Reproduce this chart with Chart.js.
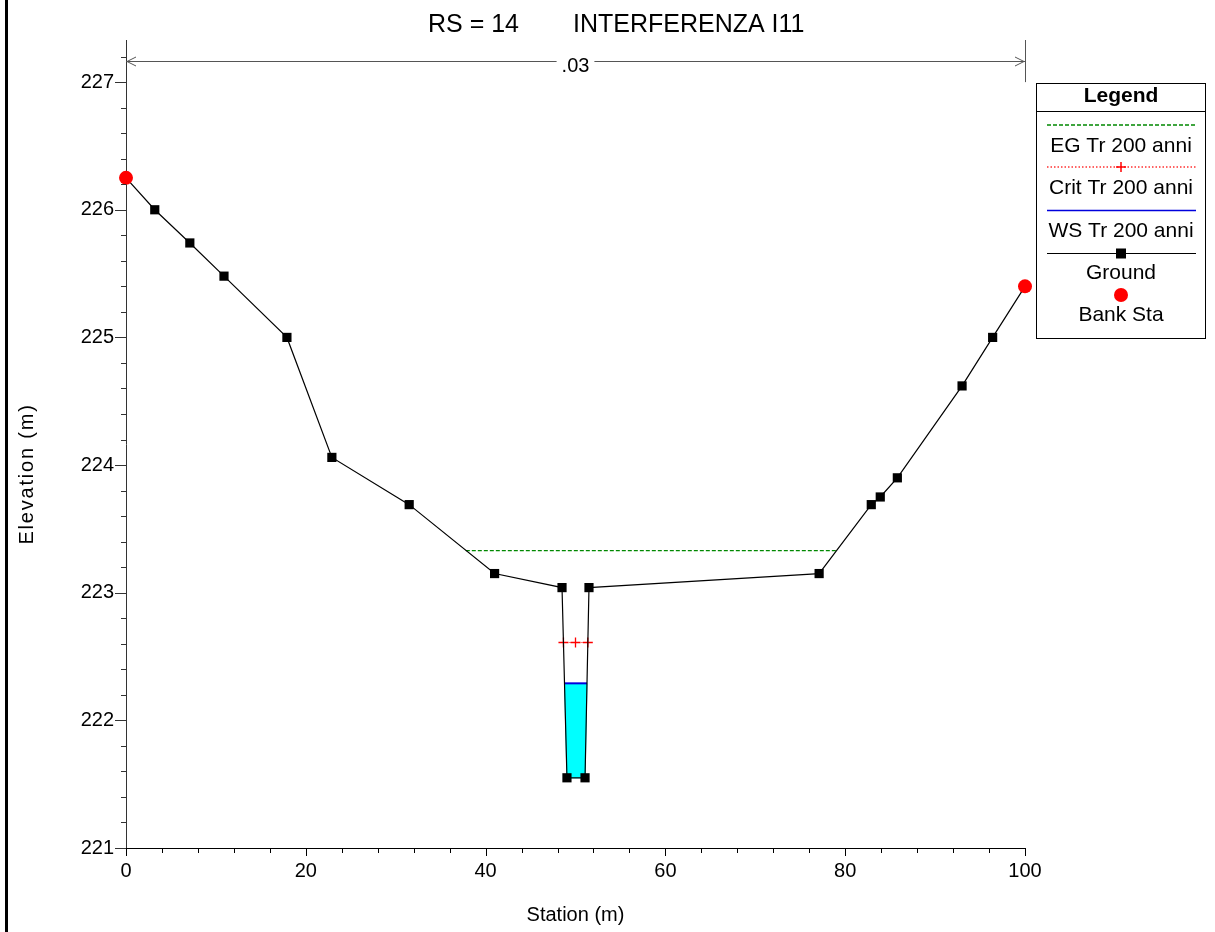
<!DOCTYPE html>
<html>
<head>
<meta charset="utf-8">
<script src="https://cdn.jsdelivr.net/npm/chart.js@4.4.0/dist/chart.umd.min.js"></script>
<style>
  html, body { margin: 0; padding: 0; background: #fff; }
  #chart { display: block; }
</style>
</head>
<body>
<canvas id="chart" width="1215" height="932"></canvas>
<script>
// cross section RS 14
const groundSta = [0, 3.2, 7.1, 10.9, 17.9, 22.9, 31.5, 41.0, 48.5, 49.05, 51.06, 51.5, 77.1, 82.9, 83.9, 85.8, 93.0, 96.4, 100];
const groundElev = [226.25, 226.0, 225.74, 225.48, 225.0, 224.06, 223.69, 223.15, 223.04, 221.55, 221.55, 223.04, 223.15, 223.69, 223.75, 223.90, 224.62, 225.0, 225.40];
const bankSta = [0, 100];
const bankElev = [226.25, 225.40];
const wsSta = [48.78, 51.28];
const wsElev = 222.29;
const critSta = [48.66, 50.0, 51.37];
const critElev = 222.61;
const egSta = [37.8, 79.0];
const egElev = 223.33;
const nSta = [0, 100];
const nValue = '.03';

const xTicks = [0, 20, 40, 60, 80, 100];
const yTicks = [221, 222, 223, 224, 225, 226, 227];
const xMinorStep = 4;
const yMinorStep = 0.2;

const titleParts = ['RS = 14', 'INTERFERENZA I11'];
const xTitle = 'Station (m)';
const yTitle = 'Elevation (m)';
const legendItems = ['EG Tr 200 anni', 'Crit Tr 200 anni', 'WS Tr 200 anni', 'Ground', 'Bank Sta'];

const FONT = '"Liberation Sans", Arial, sans-serif';

const pts = (xs, ys) => xs.map((x, i) => ({x: x, y: Array.isArray(ys) ? ys[i] : ys}));

// water body: surface edges plus the channel bed between them
let water = [{x: wsSta[0], y: wsElev}];
groundSta.forEach((s, i) => {
    if (s > wsSta[0] && s < wsSta[1]) water.push({x: s, y: groundElev[i]});
});
water.push({x: wsSta[1], y: wsElev});

function line(ctx, x0, y0, x1, y1) {
    ctx.beginPath();
    ctx.moveTo(x0, y0);
    ctx.lineTo(x1, y1);
    ctx.stroke();
}

const decor = {
    id: 'decor',
    afterDraw(chart) {
        const ctx = chart.ctx;
        const xs = chart.scales.x, ys = chart.scales.y;
        const area = chart.chartArea;
        ctx.save();

        // frame bar on the left edge
        ctx.fillStyle = '#000';
        ctx.fillRect(5, 0, 3, chart.height);

        // title
        ctx.font = '25px ' + FONT;
        ctx.textAlign = 'left';
        ctx.textBaseline = 'alphabetic';
        ctx.fillText(titleParts[0], 428, 31.5);
        ctx.fillText(titleParts[1], 573, 31.5);

        // axis titles
        ctx.font = '20px ' + FONT;
        ctx.textAlign = 'center';
        ctx.fillText(xTitle, (area.left + area.right) / 2, 921);
        ctx.save();
        ctx.translate(33, 474);
        ctx.rotate(-Math.PI / 2);
        if ('letterSpacing' in ctx) ctx.letterSpacing = '1.8px';
        ctx.fillText(yTitle, 0, 0);
        ctx.restore();

        // tick marks (outside), majors longer
        ctx.lineWidth = 1;
        ctx.strokeStyle = '#000';
        for (let i = 0; ; i++) {
            const v = xs.min + i * xMinorStep;
            if (v > xs.max + 1e-9) break;
            const px = Math.round(xs.getPixelForValue(v)) + 0.5;
            const major = xTicks.some(t => Math.abs(t - v) < 1e-6);
            line(ctx, px, area.bottom, px, area.bottom + (major ? 8 : 5));
        }
        ctx.strokeStyle = '#333';
        for (let i = 0; ; i++) {
            const v = ys.min + i * yMinorStep;
            if (v > ys.max + 1e-9) break;
            const py = Math.round(ys.getPixelForValue(v)) + 0.5;
            const major = yTicks.some(t => Math.abs(t - v) < 1e-6);
            line(ctx, area.left - (major ? 11 : 5), py, area.left, py);
        }

        // Manning's n bar across the top
        const nx0 = xs.getPixelForValue(nSta[0]);
        const nx1 = xs.getPixelForValue(nSta[1]);
        const ny = 61.5;
        const nMid = (nx0 + nx1) / 2;
        ctx.strokeStyle = '#555';
        ctx.font = '20px ' + FONT;
        const nw = ctx.measureText(nValue).width;
        line(ctx, Math.round(nx1) + 0.5, area.top, Math.round(nx1) + 0.5, ys.getPixelForValue(227));
        line(ctx, nx0, ny, nMid - nw / 2 - 5, ny);
        line(ctx, nMid + nw / 2 + 5, ny, nx1, ny);
        ctx.beginPath();
        ctx.moveTo(nx0 + 10, ny - 4.5); ctx.lineTo(nx0 + 1, ny); ctx.lineTo(nx0 + 10, ny + 4.5);
        ctx.moveTo(nx1 - 10, ny - 4.5); ctx.lineTo(nx1 - 1, ny); ctx.lineTo(nx1 - 10, ny + 4.5);
        ctx.stroke();
        ctx.fillStyle = '#000';
        ctx.textAlign = 'center';
        ctx.fillText(nValue, nMid, 72);

        // legend box
        const lx = 1036.5, ly = 83.5, lw = 169, lh = 255;
        const cx = lx + lw / 2;
        ctx.strokeStyle = '#000';
        ctx.lineWidth = 1;
        ctx.strokeRect(lx, ly, lw, lh);
        line(ctx, lx, 111.5, lx + lw, 111.5);
        ctx.font = 'bold 21px ' + FONT;
        ctx.fillText('Legend', cx, 101.5);
        ctx.font = '21px ' + FONT;
        const lineY = [125, 167, 210.5, 253.5, 295];
        const textY = [151.5, 193.5, 236.5, 279, 320.5];
        const ex0 = 1047, ex1 = 1196;
        // EG
        ctx.strokeStyle = '#008800';
        ctx.lineWidth = 1.5;
        ctx.setLineDash([4, 2]);
        line(ctx, ex0, lineY[0], ex1, lineY[0]);
        // Crit
        ctx.strokeStyle = '#ff3030';
        ctx.lineWidth = 1.5;
        ctx.setLineDash([1.5, 2]);
        line(ctx, ex0, lineY[1], ex1, lineY[1]);
        ctx.setLineDash([]);
        ctx.strokeStyle = '#ff0000';
        ctx.lineWidth = 1.5;
        line(ctx, cx - 5, lineY[1], cx + 5, lineY[1]);
        line(ctx, cx, lineY[1] - 5, cx, lineY[1] + 5);
        // WS
        ctx.strokeStyle = '#0000dd';
        ctx.lineWidth = 1.5;
        line(ctx, ex0, lineY[2], ex1, lineY[2]);
        // Ground
        ctx.strokeStyle = '#000';
        ctx.lineWidth = 1.2;
        line(ctx, ex0, lineY[3], ex1, lineY[3]);
        ctx.fillStyle = '#000';
        ctx.fillRect(cx - 5, lineY[3] - 5, 10, 10);
        // Bank Sta
        ctx.fillStyle = '#ff0000';
        ctx.beginPath();
        ctx.arc(cx, lineY[4], 7, 0, Math.PI * 2);
        ctx.fill();
        ctx.fillStyle = '#000';
        legendItems.forEach((t, i) => ctx.fillText(t, cx, textY[i]));

        ctx.restore();
    }
};

new Chart(document.getElementById('chart'), {
    type: 'line',
    data: {
        datasets: [
            {
                label: 'Bank Sta',
                data: pts(bankSta, bankElev),
                showLine: false,
                pointStyle: 'circle',
                pointRadius: 7,
                pointBackgroundColor: '#ff0000',
                pointBorderColor: '#ff0000',
                pointBorderWidth: 0,
                clip: false,
                order: 0
            },
            {
                label: 'Ground',
                data: pts(groundSta, groundElev),
                borderColor: '#000',
                borderWidth: 1.2,
                pointStyle: 'rect',
                pointRadius: 6.5,
                pointBackgroundColor: '#000',
                pointBorderColor: '#000',
                pointBorderWidth: 0,
                tension: 0,
                clip: false,
                order: 1
            },
            {
                label: 'WS Tr 200 anni',
                data: pts(wsSta, wsElev),
                borderColor: '#0000dd',
                borderWidth: 2,
                pointRadius: 0,
                order: 2
            },
            {
                label: 'Crit Tr 200 anni',
                data: pts(critSta, critElev),
                borderColor: '#ff0000',
                borderWidth: 1,
                borderDash: [1, 2],
                pointStyle: 'cross',
                pointRadius: 5,
                pointBorderColor: '#ff0000',
                pointBorderWidth: 1.3,
                order: 3
            },
            {
                label: 'EG Tr 200 anni',
                data: pts(egSta, egElev),
                borderColor: '#008800',
                borderWidth: 1.3,
                borderDash: [4, 2],
                pointRadius: 0,
                order: 4
            },
            {
                label: 'water',
                data: water,
                borderColor: '#00ffff',
                borderWidth: 1,
                backgroundColor: '#00ffff',
                pointRadius: 0,
                fill: {value: wsElev},
                order: 5
            }
        ]
    },
    options: {
        responsive: false,
        animation: false,
        layout: { padding: { top: 40, right: 190, left: 0, bottom: 0 } },
        plugins: {
            legend: { display: false },
            tooltip: { enabled: false },
            title: { display: false }
        },
        scales: {
            x: {
                type: 'linear',
                min: 0,
                max: 100,
                grid: { display: false, drawTicks: false },
                border: { color: '#000', width: 1 },
                ticks: { font: { family: FONT, size: 20 }, color: '#000', padding: 11, maxRotation: 0, autoSkip: false },
                afterBuildTicks: s => { s.ticks = xTicks.map(v => ({value: v})); },
                afterFit: s => { s.height = 84; }
            },
            y: {
                type: 'linear',
                min: 221,
                max: 227.33,
                grid: { display: false, drawTicks: false },
                border: { color: '#333', width: 1 },
                ticks: { font: { family: FONT, size: 20 }, color: '#000', padding: 12, autoSkip: false },
                afterBuildTicks: s => { s.ticks = yTicks.map(v => ({value: v})); },
                afterFit: s => { s.width = 126; }
            }
        }
    },
    plugins: [decor]
});
</script>
</body>
</html>
